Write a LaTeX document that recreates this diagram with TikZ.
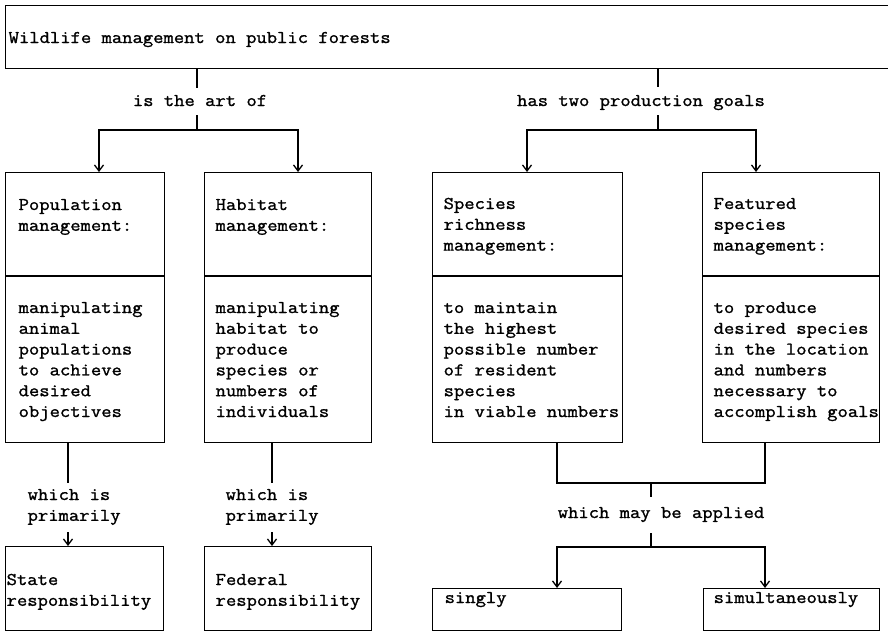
\documentclass[tikz,border=0pt]{standalone}
\usepackage{fontspec}
\newfontfamily\tw{Latin Modern Mono}[FakeStretch=1.12, FakeBold=1.3]
\usetikzlibrary{arrows.meta}
\newcommand\Lines[1]{\vtop{\let\\\cr\halign{##\hfil\cr#1\crcr}}}
\begin{document}
\begin{tikzpicture}[x=1pt,y=-1pt,
  line width=1.3pt,
  box/.style={draw, line width=1.3pt, inner sep=0pt, anchor=north west},
  txt/.style={font=\tw\fontsize{17.9pt}{20.8pt}\selectfont, inner sep=0pt, anchor=base west},
  lab/.style={font=\tw\fontsize{17.9pt}{20.8pt}\selectfont, inner sep=0pt, anchor=base},
  arr/.style={-{Straight Barb[length=6pt,width=9pt]}}]
\useasboundingbox (0,0) rectangle (888,632);

% boxes
\node[box, minimum width=900pt, minimum height=63pt] (top) at (5,5) {};
\node[box, minimum width=159pt, minimum height=270pt] (b1) at (5,172) {};
\node[box, minimum width=167pt, minimum height=270pt] (b2) at (204,172) {};
\node[box, minimum width=190pt, minimum height=270pt] (b3) at (432,172) {};
\node[box, minimum width=177pt, minimum height=270pt] (b4) at (702,172) {};
\node[box, minimum width=158pt, minimum height=84pt] (state) at (5,546) {};
\node[box, minimum width=167pt, minimum height=84pt] (fed) at (204,546) {};
\node[box, minimum width=189pt, minimum height=42pt] (sing) at (432,588) {};
\node[box, minimum width=176pt, minimum height=42pt] (simul) at (703,588) {};

% dividers
\coordinate (dv) at (0,276);
\foreach \b in {b1,b2,b3,b4} \draw (\b.west |- dv) -- (\b.east |- dv);

% texts
\node[txt] (ttop) at (8,43) {Wildlife management on public forests};
\node[txt] (t1) at (18,210) {\Lines{Population\\management:}};
\node[txt] (t1b) at (18,313) {\Lines{manipulating\\animal\\populations\\to achieve\\desired\\objectives}};
\node[txt] (t2) at (215,210) {\Lines{Habitat\\management:}};
\node[txt] (t2b) at (215,313) {\Lines{manipulating\\habitat to\\produce\\species or\\numbers of\\individuals}};
\node[txt] (t3) at (443,209) {\Lines{Species\\richness\\management:}};
\node[txt] (t3b) at (443,313) {\Lines{to maintain\\the highest\\possible number\\of resident\\species\\in viable numbers}};
\node[txt] (t4) at (713,209) {\Lines{Featured\\species\\management:}};
\node[txt] (t4b) at (713,313) {\Lines{to produce\\desired species\\in the location\\and numbers\\necessary to\\accomplish goals}};
\node[txt] (tstate) at (6,585) {\Lines{State\\responsibility}};
\node[txt] (tfed) at (215,585) {\Lines{Federal\\responsibility}};
\node[txt] (tsing) at (444,603) {singly};
\node[txt] (tsimul) at (713,603) {simultaneously};

% labels
\node[lab] (lab1) at (200,106) {is the art of};
\node[lab] (lab2) at (641,106) {has two production goals};
\node[txt] (lw1) at (27,500) {\Lines{which is\\primarily}};
\node[txt] (lw2) at (225,500) {\Lines{which is\\primarily}};
\node[lab] (lab3) at (661,518) {which may be applied};

% top-left connector
\coordinate (c1) at (197,130);
\coordinate (c1a) at (197,88);
\coordinate (c1b) at (197,115);
\coordinate (a1) at (99,0);
\coordinate (a2) at (298,0);
\draw (c1 |- top.south) -- (c1a);
\draw (c1b) -- (c1);
\draw[arr] (c1) -| (a1 |- b1.north);
\draw[arr] (c1) -| (a2 |- b2.north);

% top-right connector
\coordinate (c2) at (658,130);
\coordinate (c2a) at (658,87);
\coordinate (c2b) at (658,115);
\coordinate (a3) at (527,0);
\coordinate (a4) at (756,0);
\draw (c2 |- top.south) -- (c2a);
\draw (c2b) -- (c2);
\draw[arr] (c2) -| (a3 |- b3.north);
\draw[arr] (c2) -| (a4 |- b4.north);

% bottom-left connectors
\coordinate (d1) at (68,483);
\coordinate (d1b) at (68,532);
\draw (d1 |- b1.south) -- (d1);
\draw[arr] (d1b) -- (d1b |- state.north);
\coordinate (d2) at (272,483);
\coordinate (d2b) at (272,532);
\draw (d2 |- b2.south) -- (d2);
\draw[arr] (d2b) -- (d2b |- fed.north);

% bottom-right connectors
\coordinate (e1) at (557,483);
\coordinate (e2) at (765,483);
\coordinate (e3) at (651,483);
\coordinate (e3a) at (651,497);
\coordinate (e3b) at (651,533);
\coordinate (e4) at (651,547);
\draw (e1 |- b3.south) -- (e1) -- (e2) -- (e2 |- b4.south);
\draw (e3) -- (e3a);
\draw (e3b) -- (e4);
\draw[arr] (e4) -| (e1 |- sing.north);
\draw[arr] (e4) -| (e2 |- simul.north);
\end{tikzpicture}
\end{document}
